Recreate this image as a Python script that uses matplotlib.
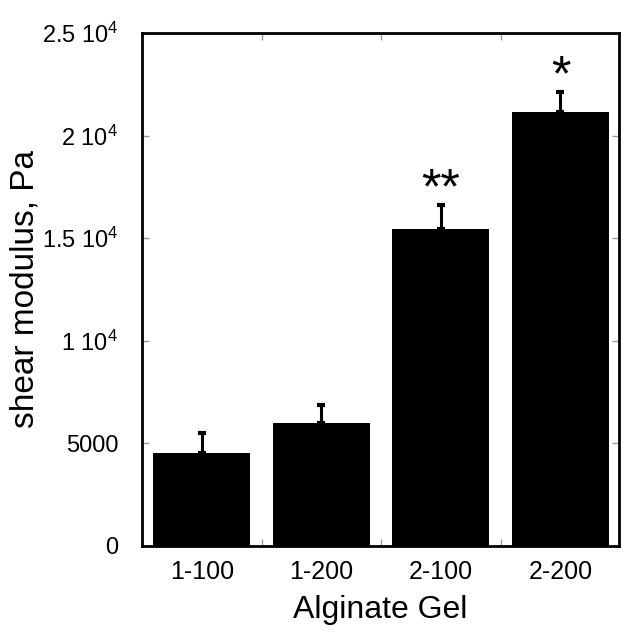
import numpy as np
import matplotlib
matplotlib.use("Agg")
import matplotlib.pyplot as plt

plt.rcParams["font.family"] = ["Liberation Sans", "DejaVu Sans"]
plt.rcParams["mathtext.default"] = "regular"

gels = ["1-100", "1-200", "2-100", "2-200"]
modulus = [4530, 5990, 15450, 21150]
err_up = [980, 880, 1170, 970]
stars = ["", "", "**", "*"]
yticks = [0, 5000, 10000, 15000, 20000, 25000]
ytick_labels = ["0", "5000", "1 10$^4$", "1.5 10$^4$", "2 10$^4$", "2.5 10$^4$"]

fig = plt.figure(figsize=(6.35, 6.41), dpi=100)
ax = fig.add_axes([142 / 635, 1 - 546 / 641, 477 / 635, 513 / 641])

x = np.arange(len(gels))
ax.bar(x, modulus, width=0.81, color="black", zorder=2)
ax.errorbar(x, modulus, yerr=[np.zeros(len(gels)), err_up], fmt="none",
            ecolor="black", elinewidth=2.2, capsize=3, capthick=3, zorder=3)

# significance marks sit just above the error caps
for xi, m, e, s in zip(x, modulus, err_up, stars):
    if s:
        ax.annotate(s, (xi, m + e), xytext=(0, -6), textcoords="offset points",
                    ha="center", va="bottom", fontsize=36)

ax.set_xlim(-0.5, 3.49)
ax.set_ylim(0, 25000)
ax.set_xticks(x)
ax.set_xticklabels(gels, fontsize=18)
ax.set_xticks([0.5, 1.5, 2.5], minor=True)
ax.set_yticks(yticks)
ax.set_yticklabels(ytick_labels, fontsize=17)
ax.tick_params(axis="x", which="major", length=0, pad=10)
ax.tick_params(axis="x", which="minor", direction="in", length=5, width=1,
               top=True, bottom=True, color="0.6")
ax.tick_params(axis="y", which="major", direction="in", length=5, width=1,
               right=True, color="0.6", pad=17)

for sp in ax.spines.values():
    sp.set_linewidth(2)

ax.set_xlabel("Alginate Gel", fontsize=23, labelpad=8)
ax.set_ylabel("shear modulus, Pa", fontsize=24)
ax.yaxis.set_label_coords(-0.212, 0.5)

fig.savefig("out.png", dpi=100)
